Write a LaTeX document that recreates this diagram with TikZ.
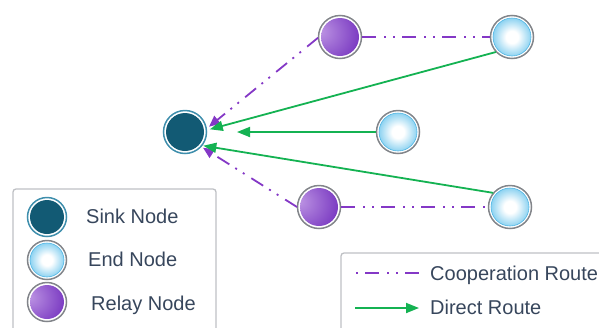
\documentclass[tikz,border=0pt]{standalone}
\usepackage{fontspec}
\setmainfont{Liberation Sans}
\usetikzlibrary{arrows.meta}
\definecolor{sinkfill}{RGB}{18,90,116}
\definecolor{sinkring}{RGB}{62,142,172}
\definecolor{ringgray}{RGB}{130,133,138}
\definecolor{endedge}{RGB}{80,182,228}
\definecolor{endmid}{RGB}{135,208,240}
\definecolor{relaylight}{RGB}{190,150,228}
\definecolor{relaymid}{RGB}{125,62,195}
\definecolor{relaydark}{RGB}{88,36,150}
\definecolor{coopcol}{RGB}{132,56,198}
\definecolor{directcol}{RGB}{20,178,82}
\definecolor{txtcol}{RGB}{55,70,92}
\definecolor{boxcol}{RGB}{190,192,196}
\pgfdeclareradialshading{endshade}{\pgfpoint{0bp}{0bp}}{color(0bp)=(white); color(8bp)=(white); color(26bp)=(endmid); color(42bp)=(endedge); color(50bp)=(endedge)}
\pgfdeclareradialshading{relayshade}{\pgfpoint{-28bp}{8bp}}{color(0bp)=(relaylight); color(38bp)=(relaymid); color(75bp)=(relaydark)}
\tikzset{
  ring/.style 2 args={append after command={\pgfextra{\draw[#1, line width=1.5pt] (\tikzlastnode.center) circle[radius=#2];}}},
  base/.style={circle, minimum size=38pt, inner sep=0pt, outer sep=3pt},
  small/.style={minimum size=34pt},
  sinknode/.style={base, fill=sinkfill, ring={sinkring}{#1}},
  sinknode/.default=21.5pt,
  endnode/.style={base, shading=endshade, draw=endedge, line width=0.6pt, ring={ringgray}{#1}},
  endnode/.default=21.5pt,
  relaynode/.style={base, shading=relayshade, ring={ringgray}{#1}},
  relaynode/.default=21.5pt,
  coop/.style={draw=coopcol, line width=1.8pt, dash pattern=on 14pt off 8pt on 2pt off 7pt on 2pt off 7pt},
  cooparrow/.style={coop, -{Triangle[length=11pt,width=10pt]}},
  direct/.style={draw=directcol, line width=1.8pt, -{Triangle[length=13pt,width=10pt]}},
  lbl/.style={anchor=base west, inner sep=0pt, text=txtcol, font=\fontsize{20pt}{22pt}\selectfont},
  legbox/.style={draw=boxcol, line width=1.3pt, rounded corners=3pt}
}
\begin{document}
\begin{tikzpicture}[x=1pt,y=-1pt]
\useasboundingbox (0,0) rectangle (599,327);
\clip (0,0) rectangle (599,327);
% legend boxes
\draw[legbox] (13,345) -- (13,189) -- (216,189) -- (216,345);
\draw[legbox] (341,345) -- (341,253) -- (620,253) -- (620,345);
% main nodes
\node[sinknode] (sink) at (185,132) {};
\node[relaynode] (rt) at (340,37) {};
\node[endnode] (et) at (512,37) {};
\node[endnode] (em) at (398,132) {};
\node[relaynode] (rb) at (319,207) {};
\node[endnode] (eb) at (510,207) {};
% connectors
\draw[coop] (rt.east) -- (et.west);
\draw[coop] (rb.east) -- (eb.west);
\draw[cooparrow, shorten >=3pt] (rt.182) -- (sink.9);
\draw[cooparrow, shorten >=2pt] (rb.180) -- (sink.-42);
\draw[direct, shorten >=3pt] (et.223) -- (sink.5);
\draw[direct, shorten >=30pt] (em.west) -- (sink.east);
\draw[direct, shorten >=1pt] (eb.140) -- (sink.-38);
% legend symbols
\node[sinknode=19.5pt, small] (lsink) at (47,217) {};
\node[endnode=19.5pt, small] (lend) at (47,260) {};
\node[relaynode=19.5pt, small] (lrelay) at (47,302) {};
\node[lbl] (tsink) at (86,223) {Sink Node};
\node[lbl] (tend) at (88,266) {End Node};
\node[lbl] (trelay) at (91,310) {Relay Node};
\coordinate (c1a) at (355,273);
\coordinate (c1b) at (419,273);
\coordinate (c2a) at (355,308);
\coordinate (c2b) at (419,308);
\draw[coop, dash phase=30pt] (c1a) -- (c1b);
\draw[direct] (c2a) -- (c2b);
\node[lbl] (tcoop) at (430,280) {Cooperation Route};
\node[lbl] (tdirect) at (430,314) {Direct Route};
\end{tikzpicture}
\end{document}
